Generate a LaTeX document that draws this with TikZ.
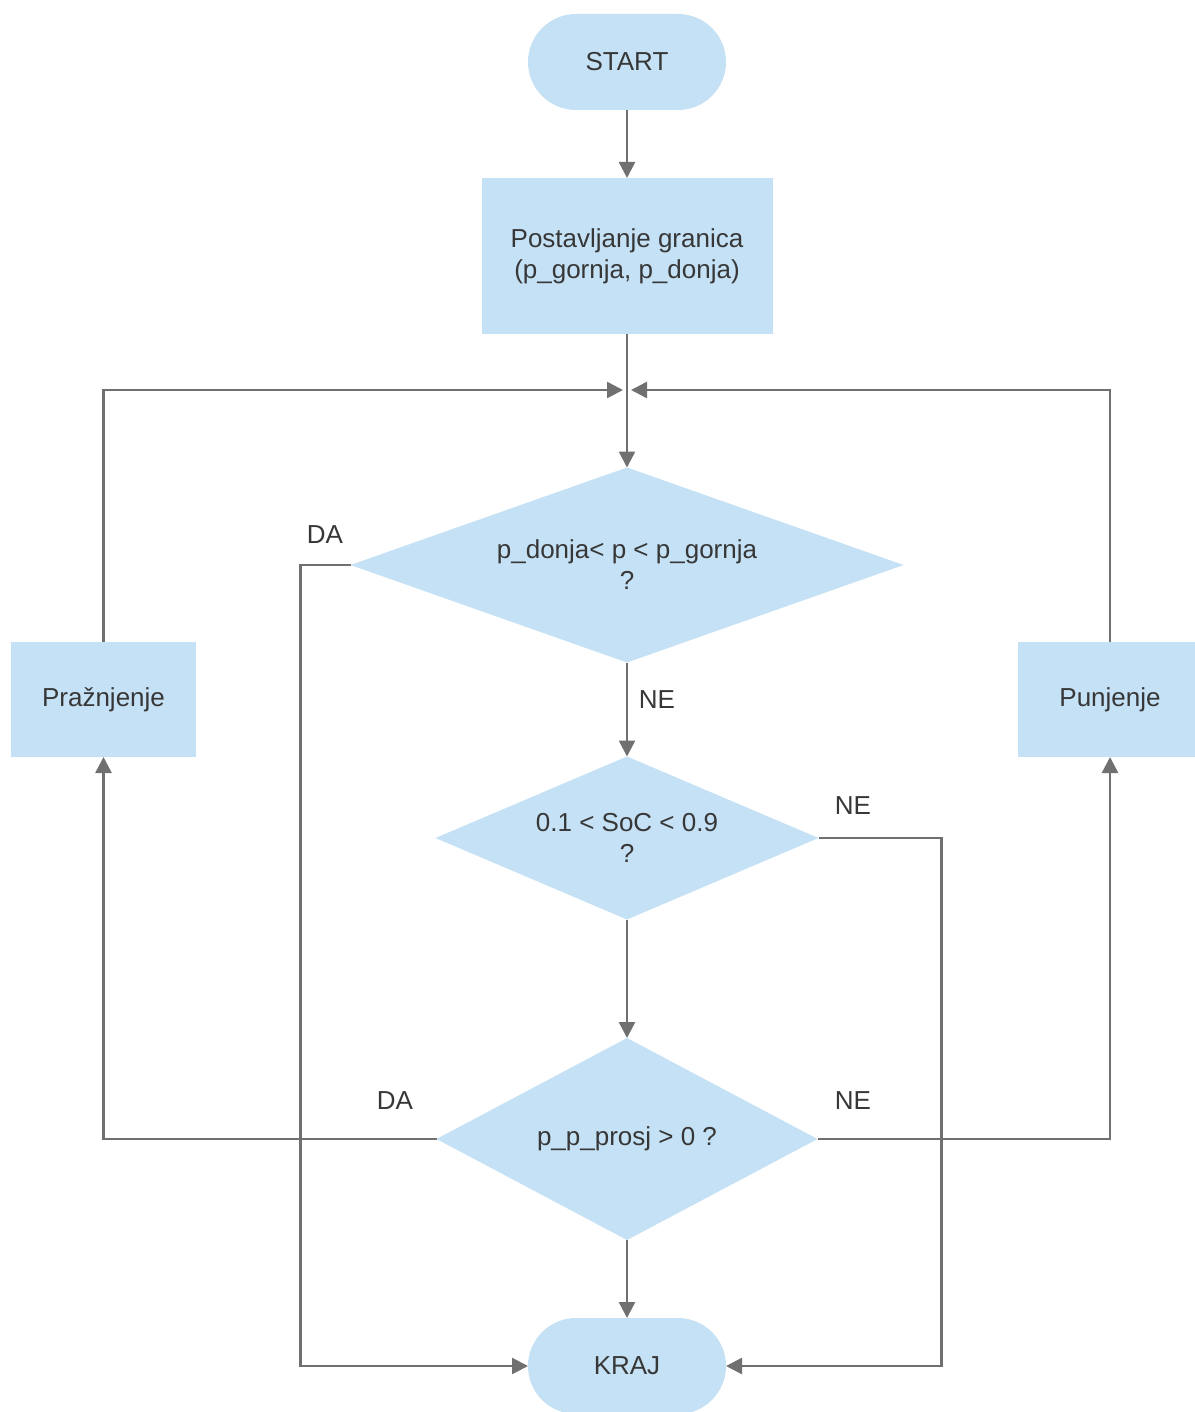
\documentclass[tikz,border=0pt]{standalone}
\usepackage{fontspec}
\setmainfont{Liberation Sans}
\usetikzlibrary{shapes.geometric,arrows.meta}
\definecolor{boxfill}{RGB}{197,225,245}
\definecolor{linegray}{RGB}{112,112,112}
\definecolor{txt}{RGB}{55,55,55}
\begin{document}
\begin{tikzpicture}[x=1pt,y=-1pt,
  every node/.style={font=\fontsize{26}{31}\selectfont, text=txt, outer sep=0pt},
  term/.style={rectangle, rounded corners=48pt, fill=boxfill, minimum width=198pt, minimum height=96pt, inner sep=0pt},
  proc/.style={rectangle, fill=boxfill, align=center, inner sep=0pt},
  dec/.style={diamond, fill=boxfill, align=center, inner sep=0pt},
  conn/.style={draw=linegray, line width=2.5pt},
  arr/.style={conn, -{Triangle[length=16pt,width=16pt]}},
  lbl/.style={inner sep=0pt}]
\useasboundingbox (0,0) rectangle (1194,1412);
\node[term] (start) at (627,62) {START};
\node[proc, minimum width=291pt, minimum height=156pt] (post) at (627,256) {Postavljanje granica\\(p\_gornja, p\_donja)};
\coordinate (merge) at (627,390);
\node[dec, aspect=2.84, minimum width=553pt, minimum height=195pt] (d1) at (627,565) {p\_donja< p < p\_gornja\\?};
\node[dec, aspect=2.35, minimum width=383pt, minimum height=163pt] (d2) at (627,838) {0.1 < SoC < 0.9\\?};
\node[dec, aspect=1.89, minimum width=381pt, minimum height=202pt] (d3) at (627,1139) {p\_p\_prosj > 0 ?};
\node[term] (kraj) at (627,1366) {KRAJ};
\node[proc, minimum width=185pt, minimum height=115pt] (praz) at (103.5,699.5) {Pražnjenje};
\node[proc, minimum width=185pt, minimum height=115pt] (punj) at (1110,699.5) {Punjenje};
\node[lbl] (da1) at (325,535) {DA};
\node[lbl] (ne1) at (657,700) {NE};
\node[lbl] (ne2) at (853,806) {NE};
\node[lbl] (da3) at (395,1101) {DA};
\node[lbl] (ne3) at (853,1101) {NE};
\draw[arr] (start) -- (post);
\draw[arr] (post) -- (d1);
\draw[arr] (d1) -- (d2);
\draw[arr] (d2) -- (d3);
\draw[arr] (d3) -- (kraj);
\draw[arr] (d1.west) -- ++(-50,0) |- (kraj.west);
\draw[arr] (d2.east) -- ++(123,0) |- (kraj.east);
\draw[arr] (d3.west) -| (praz.south);
\draw[arr] (d3.east) -| (punj.south);
\draw[arr, shorten >=4pt] (praz.north) |- (merge);
\draw[arr, shorten >=4pt] (punj.north) |- (merge);
\end{tikzpicture}
\end{document}
